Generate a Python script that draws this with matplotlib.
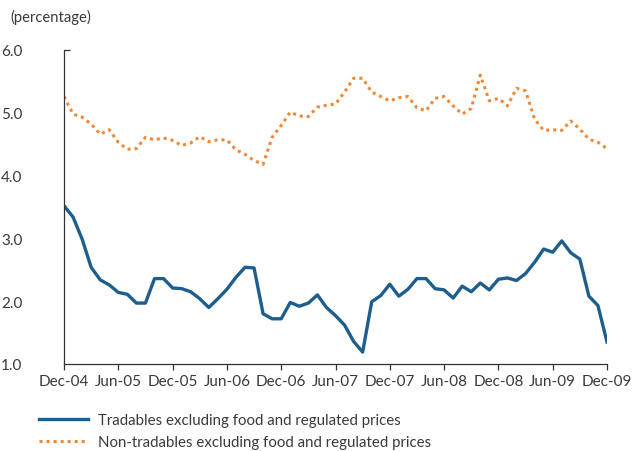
import matplotlib
matplotlib.use("Agg")
import matplotlib.pyplot as plt
import numpy as np

# monthly, Dec-04 .. Dec-09
tradables = [
    3.52, 3.34, 2.99, 2.54, 2.34, 2.26, 2.14, 2.11, 1.97, 1.97,
    2.36, 2.36, 2.21, 2.20, 2.15, 2.04, 1.90, 2.04, 2.19, 2.38,
    2.54, 2.53, 1.80, 1.72, 1.72, 1.98, 1.92, 1.97, 2.10, 1.90,
    1.77, 1.62, 1.36, 1.19, 1.99, 2.09, 2.27, 2.08, 2.19, 2.36,
    2.36, 2.20, 2.18, 2.05, 2.24, 2.15, 2.29, 2.18, 2.35, 2.37,
    2.33, 2.44, 2.62, 2.83, 2.78, 2.96, 2.77, 2.67, 2.08, 1.93,
    1.35,
]
non_tradables = [
    5.26, 4.98, 4.93, 4.82, 4.66, 4.73, 4.53, 4.42, 4.43, 4.61,
    4.57, 4.60, 4.56, 4.48, 4.52, 4.62, 4.54, 4.57, 4.57, 4.41,
    4.34, 4.24, 4.18, 4.61, 4.80, 5.01, 4.95, 4.94, 5.09, 5.12,
    5.14, 5.33, 5.55, 5.55, 5.33, 5.26, 5.19, 5.24, 5.26, 5.08,
    5.03, 5.23, 5.26, 5.11, 4.98, 5.07, 5.60, 5.19, 5.23, 5.11,
    5.39, 5.35, 4.90, 4.72, 4.73, 4.72, 4.87, 4.74, 4.58, 4.53,
    4.43,
]
tick_labels = ["Dec-04", "Jun-05", "Dec-05", "Jun-06", "Dec-06", "Jun-07",
               "Dec-07", "Jun-08", "Dec-08", "Jun-09", "Dec-09"]
y_ticks = [1.0, 2.0, 3.0, 4.0, 5.0, 6.0]

BLUE = "#1d5e8c"
ORANGE = "#f0883a"
TXT = "#3a3a3a"

plt.rcParams["font.family"] = ["Lato", "DejaVu Sans"]
plt.rcParams["font.size"] = 10

fig = plt.figure(figsize=(6.35, 4.52), dpi=100)
ax = fig.add_axes([64 / 635, 87 / 452, 543 / 635, 314 / 452])

months = np.arange(len(tradables))
ax.plot(months, tradables, color=BLUE, lw=2.4, solid_joinstyle="round",
        label="Tradables excluding food and regulated prices")
ax.plot(months, non_tradables, color=ORANGE, lw=2.2, linestyle=(0, (1, 1.3)),
        dash_capstyle="butt",
        label="Non-tradables excluding food and regulated prices")

ax.set_xlim(0, len(tradables) - 1)
ax.set_ylim(1, 6)
ax.set_xticks(months[::6])
ax.set_xticklabels(tick_labels)
ax.set_yticks(y_ticks)
ax.set_yticklabels([f"{v:.1f}" for v in y_ticks])

for s in ["top", "right"]:
    ax.spines[s].set_visible(False)
for s in ["left", "bottom"]:
    ax.spines[s].set_color("#333333")
    ax.spines[s].set_linewidth(0.9)

ax.tick_params(axis="x", direction="out", length=4, width=0.9, color="#333333",
               labelcolor=TXT, labelsize=11, pad=3)
ax.tick_params(axis="y", direction="in", length=4, width=0.9, color="#333333",
               labelcolor=TXT, labelsize=11, pad=30)
for t in ax.yaxis.get_major_ticks()[:-1]:
    t.tick1line.set_visible(False)

fig.text(10 / 635, 1 - 17 / 452, "(percentage)", color=TXT, fontsize=10.6,
         va="center", ha="left")

fig.legend(loc="upper left", bbox_to_anchor=(25 / 635, 1 - 401 / 452),
           frameon=False, handlelength=3.3, handletextpad=0.65,
           labelspacing=0.5, fontsize=10.8, labelcolor=TXT)

fig.savefig("out.png", dpi=100)
